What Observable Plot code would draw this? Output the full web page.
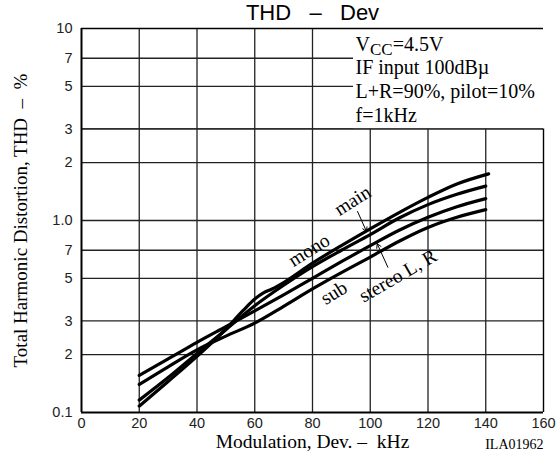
<!DOCTYPE html>
<html>
<head>
<meta charset="utf-8">
<script src="https://cdn.jsdelivr.net/npm/d3@7"></script>
<script src="https://cdn.jsdelivr.net/npm/@observablehq/plot@0.6"></script>
<style>
  html, body { margin: 0; padding: 0; background: #fff; }
  #chart svg { display: block; }
</style>
</head>
<body>
<div id="chart"></div>
<script>
// ---- data ----
const nb = "\u00a0";
const titleText = `THD${nb}${nb}${nb}–${nb}${nb}${nb}Dev`;
const xLabel = `Modulation, Dev. –${nb}${nb}kHz`;
const yLabel = `Total Harmonic Distortion, THD${nb}${nb}–${nb}${nb}%`;
const codeText = "ILA01962";

const xTicks = [0, 20, 40, 60, 80, 100, 120, 140, 160];
const yTicks = [0.1, 0.2, 0.3, 0.5, 0.7, 1, 2, 3, 5, 7, 10];
const yTickLabels = ["0.1", "2", "3", "5", "7", "1.0", "2", "3", "5", "7", "10"];

// kinked steep curve (mono)
const monoX = [20, 30, 40, 50, 56, 60, 63, 66, 70, 80, 90, 100, 110, 120, 130, 141];
const monoY = [0.108, 0.145, 0.196, 0.272, 0.34, 0.39, 0.42, 0.44, 0.475, 0.60, 0.74, 0.905, 1.10, 1.32, 1.55, 1.75];
// shared dev axis for the other curves
const devX = [20, 30, 40, 50, 60, 70, 80, 90, 100, 110, 120, 130, 140];
const mainY = [0.116, 0.152, 0.203, 0.27, 0.36, 0.46, 0.575, 0.70, 0.845, 1.03, 1.21, 1.37, 1.51];
const stereoY = [0.156, 0.19, 0.232, 0.28, 0.338, 0.41, 0.50, 0.61, 0.74, 0.89, 1.04, 1.18, 1.30];
const subY = [0.14, 0.173, 0.212, 0.25, 0.292, 0.357, 0.44, 0.535, 0.645, 0.78, 0.92, 1.04, 1.14];

// curve labels
const curveLabels = ["main", "mono", "sub", "stereo L, R"];
const curveLabelX = [93.9, 78.8, 87.4, 109.6];
const curveLabelY = [1.27, 0.70, 0.42, 0.515];
const curveLabelAngle = [-32, -32, -32, -30];

// pointer arrows: [x1, y1, x2, y2]
const arrowMain = [95.6, 1.114, 98.7, 0.876];
const arrowStereo = [106.1, 0.571, 102.4, 0.757];

// conditions box
const noteLines = ["VCC=4.5V", "IF input 100dBµ", "L+R=90%, pilot=10%", "f=1kHz"];
const noteX = 94.9;
const noteY = [7.68, 5.76, 4.32, 3.24];
const noteBox = {x1: 94.2, x2: 160, y1: 3, y2: 10};

// ---- build tables ----
const series = [
  ...monoX.map((x, i) => ({s: "mono", x, y: monoY[i]})),
  ...devX.map((x, i) => ({s: "main", x, y: mainY[i]})),
  ...devX.map((x, i) => ({s: "stereo", x, y: stereoY[i]})),
  ...devX.map((x, i) => ({s: "sub", x, y: subY[i]}))
];
const labels = curveLabels.map((t, i) => ({t, x: curveLabelX[i], y: curveLabelY[i], a: curveLabelAngle[i]}));
const arrows = [arrowMain, arrowStereo].map(([x1, y1, x2, y2]) => ({x1, y1, x2, y2}));
const notes = noteLines.map((t, i) => ({t, x: noteX, y: noteY[i]}));
const yTickData = yTicks.map((v, i) => ({v, label: yTickLabels[i]}));
const xTickData = xTicks.map(v => ({v, label: String(v)}));
const innerX = xTickData.slice(1, -1);
const innerY = yTickData.slice(1, -1);
const serif = "Liberation Serif, Times New Roman, serif";
const sans = "Liberation Sans, Arial, sans-serif";

const svg = Plot.plot({
  width: 557,
  height: 462,
  marginLeft: 81,
  marginRight: 14,
  marginTop: 28,
  marginBottom: 50,
  style: {fontFamily: sans, fontSize: "14px", color: "#000", background: "#fff"},
  x: {domain: [0, 160], axis: null},
  y: {type: "log", domain: [0.1, 10], axis: null},
  marks: [
    Plot.ruleX(innerX, {x: "v", stroke: "#222", strokeWidth: 1.3}),
    Plot.ruleY(innerY, {y: "v", stroke: "#222", strokeWidth: 1.3}),
    Plot.rect([noteBox], {x1: "x1", x2: "x2", y1: "y1", y2: "y2", fill: "white"}),
    Plot.ruleY([3], {stroke: "#222", strokeWidth: 1.3}),
    Plot.ruleY([10], {stroke: "#000", strokeWidth: 1.4}),
    Plot.ruleX([160], {y1: 0.1, y2: 3, stroke: "#000", strokeWidth: 1.4}),
    Plot.ruleX([0], {stroke: "#000", strokeWidth: 2}),
    Plot.ruleY([0.1], {stroke: "#000", strokeWidth: 2}),
    // tick labels
    Plot.text(xTickData, {x: "v", text: "label", frameAnchor: "bottom", lineAnchor: "top", dy: 5, fontSize: 14.5, fontFamily: sans, fill: "#222"}),
    Plot.text(yTickData, {y: "v", text: "label", frameAnchor: "left", textAnchor: "end", dx: -9, fontSize: 14.5, fontFamily: sans, fill: "#222"}),
    Plot.line(series, {x: "x", y: "y", z: "s", stroke: "#000", strokeWidth: 3.2, curve: "monotone-x"}),
    Plot.text(labels, {x: "x", y: "y", text: "t", rotate: "a", fontFamily: serif, fontSize: 19.5, fill: "#000"}),
    Plot.arrow(arrows, {x1: "x1", y1: "y1", x2: "x2", y2: "y2", stroke: "#000", strokeWidth: 1, headLength: 7, bend: 0}),
    Plot.text(notes, {x: "x", y: "y", text: "t", textAnchor: "start", lineAnchor: "bottom", fontFamily: serif, fontSize: 20, fill: "#000"}),
    Plot.text([titleText], {frameAnchor: "top", lineAnchor: "bottom", dy: -9, text: d => d, fontSize: 22, fontFamily: sans, fill: "#000"}),
    Plot.text([xLabel], {frameAnchor: "bottom", dy: 35, text: d => d, fontSize: 19.5, fontFamily: serif, fill: "#000"}),
    Plot.text([codeText], {frameAnchor: "bottom-right", dy: 36, textAnchor: "end", text: d => d, fontSize: 14, fontFamily: serif, fill: "#000"}),
    Plot.text([yLabel], {frameAnchor: "left", textAnchor: "middle", dx: -61, rotate: -90, text: d => d, fontSize: 19, fontFamily: serif, fill: "#000"})
  ]
});

// subscript "CC" in VCC
d3.select(svg).selectAll("text").filter(function() { return this.textContent === "VCC=4.5V"; })
  .each(function() {
    const t = d3.select(this);
    t.text(null);
    t.append("tspan").text("V");
    t.append("tspan").attr("dy", 4).attr("font-size", 17).text("CC");
    t.append("tspan").attr("dy", -4).text("=4.5V");
  });

document.getElementById("chart").appendChild(svg);
</script>
</body>
</html>
